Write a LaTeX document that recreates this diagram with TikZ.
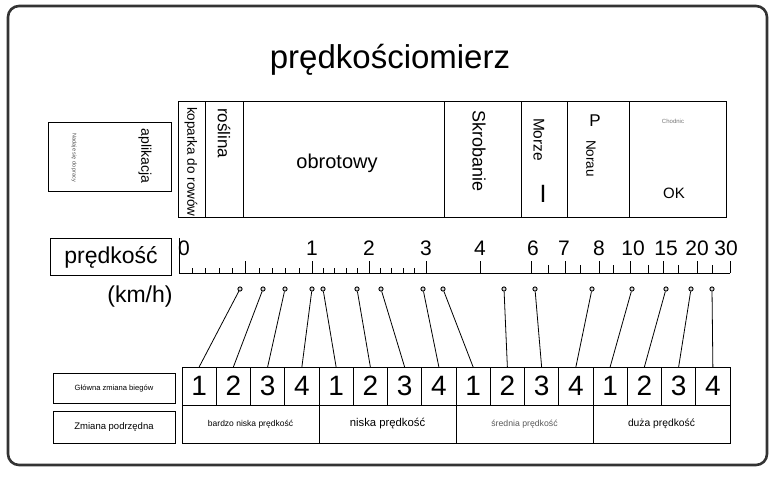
\documentclass[tikz,border=0pt]{standalone}
\usepackage{fontspec}
\setmainfont{Liberation Sans}
\newcommand\fsz[1]{\fontsize{#1}{#1}\selectfont}
\begin{document}
\begin{tikzpicture}[x=1pt,y=-1pt,
  box/.style={draw, line width=0.8pt, inner sep=0pt, outer sep=0pt},
  lbl/.style={inner sep=0pt, outer sep=0pt},
  gear/.style={box, minimum width=34.25pt, minimum height=38pt, font=\fsz{28}},
  spd/.style={box, minimum width=137pt, minimum height=38pt},
  pinc/.style={draw, circle, minimum size=4.2pt, inner sep=0pt, line width=0.9pt, fill=black!15},
  conn/.style={line width=0.8pt},
  tickl/.style={line width=0.8pt}]
\useasboundingbox (0,0) rectangle (777,477);
% outer frame
\draw[line width=2.6pt, black!80, rounded corners=11pt] (8,6) rectangle (767,465);
% title
\node[lbl, font=\fsz{33}] (title) at (390,60) {prędkościomierz};
% aplikacja
\node[box, anchor=north west, minimum width=123pt, minimum height=69pt] (app) at (48,122) {};
\node[lbl, rotate=-90, font=\fsz{14}] (appt) at (145,156) {aplikacja};
\node[lbl, rotate=-90, font=\fsz{5.5}, text=black!70] (appn) at (74,158) {Nadaje się do pracy};
% top row
\node[box, anchor=north west, minimum width=27pt, minimum height=116pt] (kop) at (178,101) {};
\node[box, anchor=north west, minimum width=38pt, minimum height=116pt] (ros) at (205,101) {};
\node[box, anchor=north west, minimum width=201pt, minimum height=116pt] (obr) at (243,101) {};
\node[box, anchor=north west, minimum width=77pt, minimum height=116pt] (skr) at (444,101) {};
\node[box, anchor=north west, minimum width=46pt, minimum height=116pt] (mor) at (521,101) {};
\node[box, anchor=north west, minimum width=62pt, minimum height=116pt] (nor) at (567,101) {};
\node[box, anchor=north west, minimum width=97pt, minimum height=116pt] (okb) at (629,101) {};
\node[lbl, rotate=-90, anchor=west, font=\fsz{13.5}] (kopt) at (191,107) {koparka do rowów};
\node[lbl, rotate=-90, anchor=west, font=\fsz{17}] (rost) at (224,108) {roślina};
\node[lbl, font=\fsz{20}] (obrt) at (337,163) {obrotowy};
\node[lbl, rotate=-90, anchor=west, font=\fsz{18}] (skrt) at (479,110) {Skrobanie};
\node[lbl, rotate=-90, anchor=west, font=\fsz{15.5}] (mort) at (539,118) {Morze};
\node[lbl, font=\fsz{25}] (morb) at (543,194) {I};
\node[lbl, font=\fsz{17}] (nort) at (595,121) {P};
\node[lbl, rotate=-90, anchor=west, font=\fsz{13.5}] (norn) at (591,140) {Norau};
\node[lbl, font=\fsz{6}, text=black!55] (okc) at (673,121) {Chodnic};
\node[lbl, font=\fsz{15}] (okt) at (674,193) {OK};
% speed label
\node[box, anchor=north west, minimum width=121pt, minimum height=37pt] (spbox) at (50,238) {};
\node[lbl, font=\fsz{23}] (spt) at (111,257) {prędkość};
\node[lbl, font=\fsz{23}] (kmh) at (140,297) {(km/h)};
% scale
\draw[tickl] (179,238) -- (179,273) -- (730,273);
\foreach \x in {312,369,426,480,531,565,599,630,663,697,730,245.5}
  \draw[tickl] (\x,261) -- (\x,273);
\foreach \x in {192,205.6,219,232,259,272,285.5,299,323.4,334.8,346.2,357.6,380.4,391.8,403.2,414.6}
  \draw[tickl] (\x,268) -- (\x,273);
\foreach \x in {548,580,613,648,678,712}
  \draw[tickl] (\x,265) -- (\x,273);
\foreach \x/\t [count=\k] in {184/0,312/1,369/2,426/3,480/4,533/6,564/7,599/8,633/10,666/15,697/20,726/30}
  \node[lbl, font=\fsz{21}] (sc\k) at (\x,248) {\t};
% gears
\foreach \d [count=\i] in {1,2,3,4,1,2,3,4,1,2,3,4,1,2,3,4}
  \node[gear] (g\i) at ({182+(\i-0.5)*34.25},386) {\d};
\foreach \px [count=\i] in {240,263,285,312,323,357,381,423,443,504,535,592,632,666,691,712} {
  \node[pinc] (p\i) at (\px,289) {};
  \draw[conn] (p\i) -- (g\i.north);
}
% speed ranges
\node[spd, font=\fsz{8.5}] (b1) at (250.5,424) {bardzo niska prędkość};
\node[spd, font=\fsz{11.3}] (b2) at (387.5,424) {niska prędkość};
\node[spd, font=\fsz{8.7}, text=black!65] (b3) at (524.5,424) {średnia prędkość};
\node[spd, font=\fsz{10.3}] (b4) at (661.5,424) {duża prędkość};
% left labels
\node[box, anchor=north west, minimum width=122pt, minimum height=30pt, font=\fsz{7.6}] (glo) at (53,373) {Główna zmiana biegów};
\node[box, anchor=north west, minimum width=122pt, minimum height=32pt, font=\fsz{9.5}] (pod) at (53,411) {Zmiana podrzędna};
\end{tikzpicture}
\end{document}
